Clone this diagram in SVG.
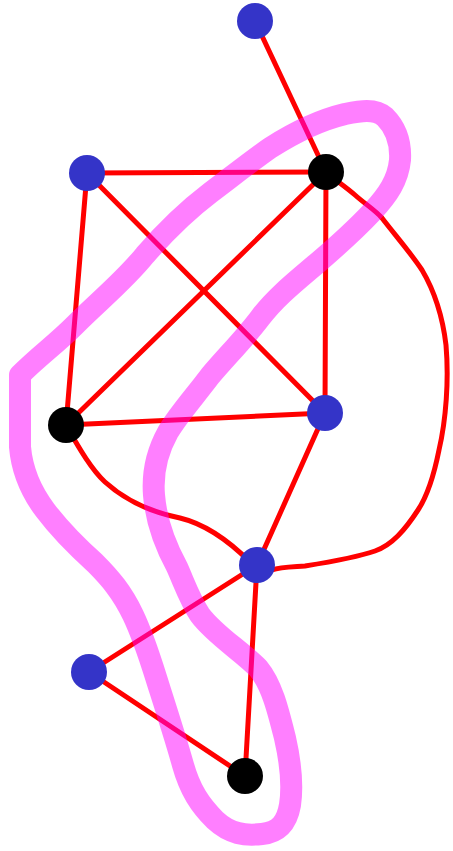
<svg xmlns="http://www.w3.org/2000/svg" width="453" height="851" viewBox="0 0 453 851">
<style>
.e{fill:none;stroke:#ff0000;stroke-width:5;stroke-linecap:round;stroke-linejoin:round}
.hl{fill:none;stroke:#ff00ff;stroke-opacity:0.5;stroke-width:22;stroke-linecap:round;stroke-linejoin:round}
.b{fill:#3434c8}
.k{fill:#000}
</style>
<rect width="453" height="851" fill="#fff"/>
<g id="connectors">
<path class="e" d="M255 21 L326 172"/>
<path class="e" d="M87 173 L326 172"/>
<path class="e" d="M87 173 L66 425"/>
<path class="e" d="M87 173 L325 413"/>
<path class="e" d="M326 172 L66 425"/>
<path class="e" d="M326 172 L325 413"/>
<path class="e" d="M66 425 L325 413"/>
<path class="e" d="M325 413 L257 565"/>
<path class="e" d="M66 425 C80 450 92 470 105 482 C125 500 150 512 180 518 C205 524 228 540 250 562"/>
<path class="e" d="M326 172 C335 180 345 186 355 195 C365 204 375 210 382 218 C395 235 410 252 422 270 C435 292 443 320 446 345 C449 380 446 420 439 450 C434 475 428 495 418 510 C405 530 392 545 375 551 C355 558 330 562 305 566 C290 567 280 567 272 570"/>
<path class="e" d="M257 565 L89 672"/>
<path class="e" d="M257 565 L245 776"/>
<path class="e" d="M89 672 L245 776"/>
</g>
<g id="highlight">
<path class="hl" d="M20 447 L20 375 C40 355 55 345 75 325 C100 300 125 280 145 255 C165 232 185 212 210 193 C230 178 250 162 270 148 C295 132 320 120 345 114 C360 111 375 108 385 117 C396 128 401 142 400 160 C398 180 388 195 372 212 C355 230 335 248 315 265 C295 282 275 298 260 318 C245 338 225 358 210 376 C195 396 178 415 168 432 C158 450 152 470 154 495 C156 520 165 545 177 567 C185 585 190 600 200 615 C215 635 240 650 258 668 C272 685 278 710 285 738 C290 760 293 785 290 805 C287 822 280 832 262 834 C245 836 230 834 215 820 C200 805 190 790 183 765 C176 740 168 715 160 690 C152 665 145 640 133 615 C122 592 110 578 95 563 C75 545 60 530 45 510 C30 490 22 470 20 447 Z"/>
</g>
<g id="nA"><circle class="b" cx="255" cy="21" r="18"/></g>
<g id="nB"><circle class="k" cx="326" cy="172" r="18"/></g>
<g id="nC"><circle class="b" cx="87" cy="173" r="18"/></g>
<g id="nD"><circle class="k" cx="66" cy="425" r="18"/></g>
<g id="nE"><circle class="b" cx="325" cy="413" r="18"/></g>
<g id="nF"><circle class="b" cx="257" cy="565" r="18"/></g>
<g id="nG"><circle class="b" cx="89" cy="672" r="18"/></g>
<g id="nH"><circle class="k" cx="245" cy="776" r="18"/></g>
</svg>
